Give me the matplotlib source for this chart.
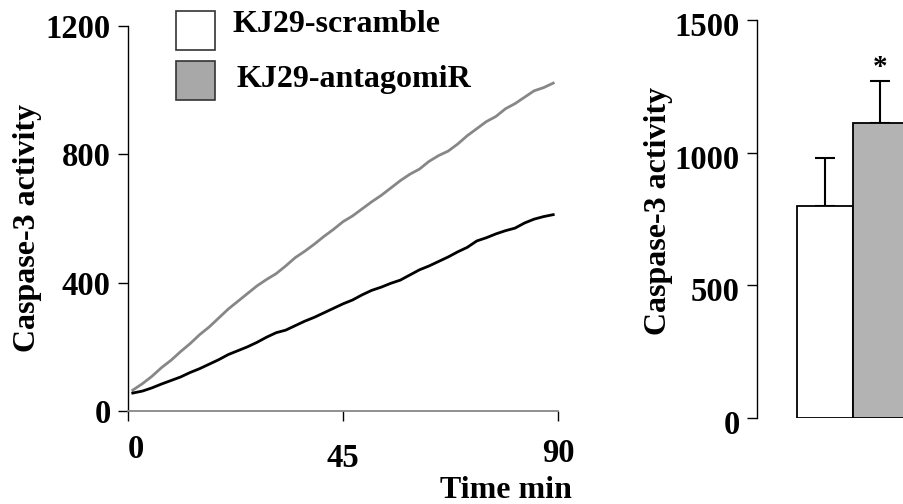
import matplotlib
matplotlib.use("Agg")
import matplotlib.pyplot as plt
from matplotlib.patches import Rectangle
from matplotlib.transforms import ScaledTranslation

plt.rcParams['font.family'] = ['Liberation Serif', 'DejaVu Serif']
plt.rcParams['font.weight'] = 'bold'

# Time course (min)
time_min = [1, 3, 5, 7, 9, 11, 13, 15, 17, 19, 21, 23, 25, 27, 29, 31, 33, 35, 37, 39, 41, 43, 45,
            47, 49, 51, 53, 55, 57, 59, 61, 63, 65, 67, 69, 71, 73, 75, 77, 79, 81, 83, 85, 87, 89]
antagomir_curve = [65, 85, 108, 135, 158, 185, 210, 238, 262, 290, 318, 342, 366, 390, 410, 428,
                   452, 478, 498, 520, 544, 566, 590, 608, 630, 652, 672, 695, 718, 738, 754, 778,
                   796, 810, 832, 858, 880, 902, 918, 942, 958, 978, 998, 1008, 1022]
scramble_curve = [56, 62, 72, 84, 95, 106, 120, 132, 146, 160, 176, 188, 200, 214, 230, 244,
                  252, 266, 280, 292, 306, 320, 334, 346, 362, 376, 386, 398, 408, 424, 440, 452,
                  466, 480, 496, 510, 530, 540, 552, 562, 570, 586, 598, 606, 612]

# Endpoint bar values
groups = ["KJ29-scramble", "KJ29-antagomiR"]
bar_means = [800, 1112]
bar_errs = [180, 158]

LINE_GREY = "#878787"
BAR_GREY = "#b3b3b3"
LEG_GREY = "#a8a8a8"
TICK_FS = 23.5
TEXT_FS = 23

fig = plt.figure(figsize=(9.04, 5.04), dpi=100)


def shift(lab, dx, dy):
    # nudge a text by dx, dy pixels
    lab.set_transform(lab.get_transform() + ScaledTranslation(dx/100, dy/100, fig.dpi_scale_trans))


# ---- left panel: kinetics
ax = fig.add_axes([128/904, 93/504, 430/904, 385/504])
ax.plot(time_min, antagomir_curve, color=LINE_GREY, lw=2.0)
ax.plot(time_min, scramble_curve, color="black", lw=2.0)
ax.set_xlim(0, 90)
ax.set_ylim(0, 1200)
ax.set_xticks([0, 45, 90])
ax.set_yticks([0, 400, 800, 1200])
for s in ["top", "right"]:
    ax.spines[s].set_visible(False)
ax.spines["bottom"].set_color(LINE_GREY)
ax.spines["bottom"].set_linewidth(1.3)
ax.spines["left"].set_linewidth(1.0)
ax.tick_params(axis="both", direction="out", length=7.5, width=1.0, labelsize=TICK_FS, pad=5)
ax.tick_params(axis="x", pad=9)
for lab in ax.get_yticklabels() + ax.get_xticklabels():
    lab.set_fontweight("bold")
# small per-label nudges as in the original figure
for lab, (dx, dy) in zip(ax.get_xticklabels(), [(8, 0), (0, -9), (0, -4)]):
    shift(lab, dx, dy)
ax.set_ylabel("Caspase-3 activity", fontsize=TEXT_FS, fontweight="bold")
ax.yaxis.set_label_coords(-0.2, 0.475)
fig.text(572/904, 1 - 491/504, "Time min", ha="right", va="center", fontsize=TEXT_FS, fontweight="bold")

# legend drawn as boxes
fig.patches.append(Rectangle((176/904, 1 - 50/504), 39/904, 39/504, transform=fig.transFigure,
                             facecolor="white", edgecolor="#333333", lw=1.2))
fig.patches.append(Rectangle((176/904, 1 - 100/504), 39/904, 39/504, transform=fig.transFigure,
                             facecolor=LEG_GREY, edgecolor="#333333", lw=1.2))
fig.text(233/904, 1 - 25/504, groups[0], ha="left", va="center", fontsize=TEXT_FS, fontweight="bold")
fig.text(237/904, 1 - 80/504, groups[1], ha="left", va="center", fontsize=TEXT_FS, fontweight="bold")

# ---- right panel: bars
bx = fig.add_axes([757/904, 86/504, 147/904, 398/504])
bx.bar([0, 1], bar_means, width=1.0, color=["white", BAR_GREY], edgecolor="black", lw=1.3, zorder=2)
bx.errorbar([0, 1], bar_means, yerr=[[0, 0], bar_errs], fmt="none", ecolor="black",
            elinewidth=1.5, capsize=7.5, capthick=1.5, zorder=1)
bx.text(1, bar_means[1] + bar_errs[1] + 50, "*", ha="center", va="center", fontsize=21, fontweight="bold")
bx.set_xlim(-1.236, 1.436)
bx.set_ylim(0, 1500)
bx.set_yticks([0, 500, 1000, 1500])
bx.set_xticks([])
for s in ["top", "right", "bottom"]:
    bx.spines[s].set_visible(False)
bx.spines["left"].set_linewidth(1.0)
bx.tick_params(axis="y", direction="out", length=7.5, width=1.0, labelsize=TICK_FS, pad=5)
for lab in bx.get_yticklabels():
    lab.set_fontweight("bold")
    shift(lab, 0, -4)
bx.set_ylabel("Caspase-3 activity", fontsize=TEXT_FS, fontweight="bold")
bx.yaxis.set_label_coords(-0.571, 0.52)

fig.savefig("out.png", dpi=100)
